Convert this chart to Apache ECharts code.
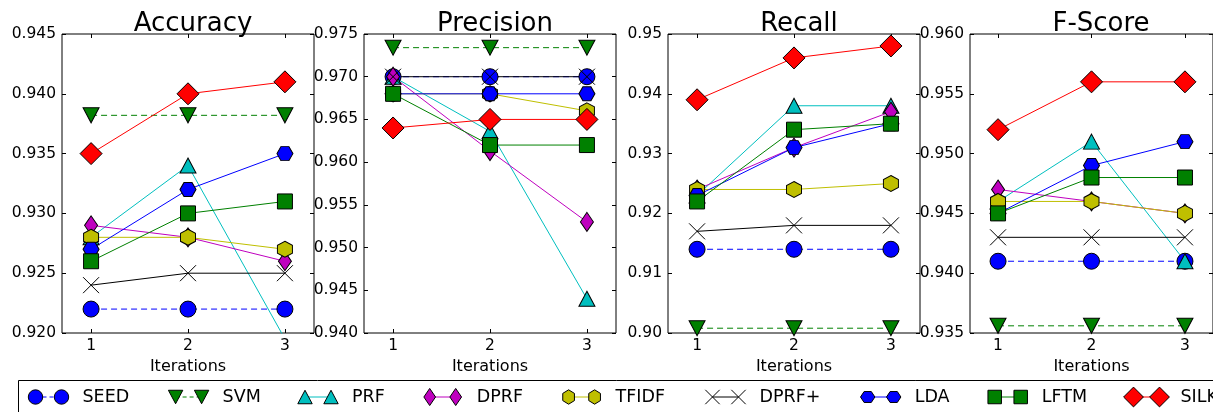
<!DOCTYPE html>
<html>
<head>
<meta charset="utf-8">
<script src="https://cdn.jsdelivr.net/npm/echarts@6/dist/echarts.min.js"></script>
<style>html,body{margin:0;padding:0;background:#fff}#c{width:1213px;height:412px}</style>
</head>
<body>
<div id="c"></div>
<script>
// ---------------- data ----------------
const iterations = [1, 2, 3];
const panelTitles = ['Accuracy', 'Precision', 'Recall', 'F-Score'];
const methods = ['SEED', 'SVM', 'PRF', 'DPRF', 'TFIDF', 'DPRF+', 'LDA', 'LFTM', 'SILK'];

// rows follow the order of `methods`
const accuracy = [
  [0.922, 0.922, 0.922],
  [0.9382, 0.9382, 0.9382],
  [0.928, 0.934, 0.9195],
  [0.929, 0.928, 0.926],
  [0.928, 0.928, 0.927],
  [0.924, 0.925, 0.925],
  [0.927, 0.932, 0.935],
  [0.926, 0.930, 0.931],
  [0.935, 0.940, 0.941]
];
const precision = [
  [0.970, 0.970, 0.970],
  [0.9734, 0.9734, 0.9734],
  [0.970, 0.9636, 0.944],
  [0.970, 0.9613, 0.953],
  [0.968, 0.968, 0.966],
  [0.970, 0.970, 0.970],
  [0.968, 0.968, 0.968],
  [0.968, 0.962, 0.962],
  [0.964, 0.965, 0.965]
];
const recall = [
  [0.914, 0.914, 0.914],
  [0.9008, 0.9008, 0.9008],
  [0.923, 0.938, 0.938],
  [0.924, 0.931, 0.937],
  [0.924, 0.924, 0.925],
  [0.917, 0.918, 0.918],
  [0.923, 0.931, 0.935],
  [0.922, 0.934, 0.935],
  [0.939, 0.946, 0.948]
];
const fscore = [
  [0.941, 0.941, 0.941],
  [0.9356, 0.9356, 0.9356],
  [0.946, 0.951, 0.941],
  [0.947, 0.946, 0.945],
  [0.946, 0.946, 0.945],
  [0.943, 0.943, 0.943],
  [0.945, 0.949, 0.951],
  [0.945, 0.948, 0.948],
  [0.952, 0.956, 0.956]
];
const yMin = [0.920, 0.940, 0.90, 0.935];
const yMax = [0.945, 0.975, 0.95, 0.960];
const yStep = [0.005, 0.005, 0.01, 0.005];
const yDecimals = [3, 3, 2, 3];
const xTicks = [1, 2, 3];
const xLabel = 'Iterations';

// ---------------- styles ----------------
const FONT = 'DejaVu Sans';
const COL = { b: '#0000ff', g: '#008000', c: '#00bfbf', m: '#bf00bf', y: '#bfbf00', k: '#000000', r: '#ff0000' };
// marker outlines in a unit box [-1,1]
const SHAPES = {
  triDown: [[-1, -1], [1, -1], [0, 1]],
  triUp: [[0, -1], [1, 1], [-1, 1]],
  diamond: [[0, -1], [1, 0], [0, 1], [-1, 0]],
  hexV: [[0, -1], [0.866, -0.5], [0.866, 0.5], [0, 1], [-0.866, 0.5], [-0.866, -0.5]],
  hexH: [[-1, 0], [-0.5, -0.866], [0.5, -0.866], [1, 0], [0.5, 0.866], [-0.5, 0.866]],
  square: [[-1, -1], [1, -1], [1, 1], [-1, 1]]
};
const X_PATH = 'path://M-1,-1L1,1M1,-1L-1,1';
const styles = [
  { color: COL.b, shape: 'circle', size: [16, 16], dash: [6, 4] },
  { color: COL.g, shape: 'triDown', size: [16, 15], dash: [6, 4] },
  { color: COL.c, shape: 'triUp', size: [16, 15] },
  { color: COL.m, shape: 'diamond', size: [13, 19] },
  { color: COL.y, shape: 'hexV', size: [15, 16] },
  { color: COL.k, shape: 'x', size: [16, 16], hollow: true },
  { color: COL.b, shape: 'hexH', size: [16, 14] },
  { color: COL.g, shape: 'square', size: [15, 15] },
  { color: COL.r, shape: 'diamond', size: [22, 22] }
];
const gridLeft = [62, 364, 668, 970];
const gridWidth = 252, gridTop = 34, gridHeight = 299;
const legendTextX = [82.5, 222.6, 352, 476.7, 615.6, 759.5, 914.7, 1041.7, 1180.5];
const legendY = 397;

function symbolOf(shape) {
  if (shape === 'circle') return 'circle';
  if (shape === 'x') return X_PATH;
  return 'path://M' + SHAPES[shape].map((p) => p.join(',')).join('L') + 'Z';
}

// ---------------- build ----------------
const panels = [accuracy, precision, recall, fscore];
const grids = [], xAxes = [], yAxes = [], series = [], titles = [];

panels.forEach((vals, p) => {
  grids.push({ left: gridLeft[p], top: gridTop, width: gridWidth, height: gridHeight,
    show: true, borderColor: '#000', borderWidth: 1, backgroundColor: '#fff', containLabel: false });
  titles.push({ text: panelTitles[p], left: gridLeft[p] + gridWidth / 2, top: 6, textAlign: 'center',
    textStyle: { fontFamily: FONT, fontSize: 26, fontWeight: 'normal', color: '#000' } });
  const tick = { show: true, inside: true, length: 4, lineStyle: { color: '#000', width: 1 } };
  ['bottom', 'top'].forEach((pos) => {
    xAxes.push({ type: 'value', gridIndex: p, position: pos, min: 0.7, max: 3.3,
      name: pos === 'bottom' ? xLabel : '', nameLocation: 'middle', nameGap: 19,
      nameTextStyle: { fontFamily: FONT, fontSize: 16, color: '#000' },
      axisLine: { show: false }, splitLine: { show: false },
      axisTick: Object.assign({}, tick, { customValues: xTicks }),
      axisLabel: { show: pos === 'bottom', customValues: xTicks, margin: 5,
        fontFamily: FONT, fontSize: 15.5, color: '#000', formatter: (v) => String(v) } });
  });
  ['left', 'right'].forEach((pos) => {
    yAxes.push({ type: 'value', gridIndex: p, position: pos, min: yMin[p], max: yMax[p], interval: yStep[p],
      axisLine: { show: false }, splitLine: { show: false }, axisTick: tick,
      axisLabel: { show: pos === 'left', margin: 6, fontFamily: FONT, fontSize: 15.5, color: '#000',
        formatter: (v) => v.toFixed(yDecimals[p]) } });
  });
  vals.forEach((row, s) => {
    const st = styles[s];
    series.push({
      type: 'line', name: methods[s], xAxisIndex: p * 2, yAxisIndex: p * 2,
      data: iterations.map((it, i) => [it, row[i]]),
      symbol: symbolOf(st.shape),
      symbolSize: st.size, symbolKeepAspect: false, showSymbol: true, showAllSymbol: true,
      lineStyle: { color: st.color, width: 1, type: st.dash || 'solid' },
      itemStyle: { color: st.hollow ? 'rgba(0,0,0,0)' : st.color, borderColor: '#000', borderWidth: 1, opacity: 1 },
      clip: true, silent: true, animation: false, emphasis: { disabled: true }
    });
  });
});

// legend drawn as graphic elements (matplotlib style: two markers joined by a line)
const graphic = [{ type: 'rect', z: 10, shape: { x: 18.5, y: 380.5, width: 1250, height: 60 },
  style: { fill: '#fff', stroke: '#000', lineWidth: 1 } }];
methods.forEach((name, s) => {
  const st = styles[s];
  const tx = legendTextX[s];
  const m1 = tx - 47, m2 = tx - 21;
  graphic.push({ type: 'line', z: 11, shape: { x1: m1, y1: legendY, x2: m2, y2: legendY },
    style: { stroke: st.color, lineWidth: 1, lineDash: st.dash ? [4, 3] : null } });
  [m1, m2].forEach((mx) => {
    const hw = st.size[0] * 0.45, hh = st.size[1] * 0.45;
    const style = { fill: st.hollow ? 'none' : st.color, stroke: '#000', lineWidth: 1 };
    if (st.shape === 'circle') {
      graphic.push({ type: 'circle', z: 12, shape: { cx: mx, cy: legendY, r: hw }, style });
    } else if (st.shape === 'x') {
      graphic.push({ type: 'line', z: 12, shape: { x1: mx - hw, y1: legendY - hh, x2: mx + hw, y2: legendY + hh }, style });
      graphic.push({ type: 'line', z: 12, shape: { x1: mx + hw, y1: legendY - hh, x2: mx - hw, y2: legendY + hh }, style });
    } else {
      graphic.push({ type: 'polygon', z: 12,
        shape: { points: SHAPES[st.shape].map(([u, v]) => [mx + u * hw, legendY + v * hh]) }, style });
    }
  });
  graphic.push({ type: 'text', z: 12, x: tx, y: legendY,
    style: { text: name, fontFamily: FONT, fontSize: 17.5, fill: '#000', align: 'left', verticalAlign: 'middle' } });
});

const chart = echarts.init(document.getElementById('c'), null, { renderer: 'canvas' });
chart.setOption({
  backgroundColor: '#fff',
  animation: false,
  title: titles,
  grid: grids,
  xAxis: xAxes,
  yAxis: yAxes,
  series: series,
  graphic: graphic
});
</script>
</body>
</html>
